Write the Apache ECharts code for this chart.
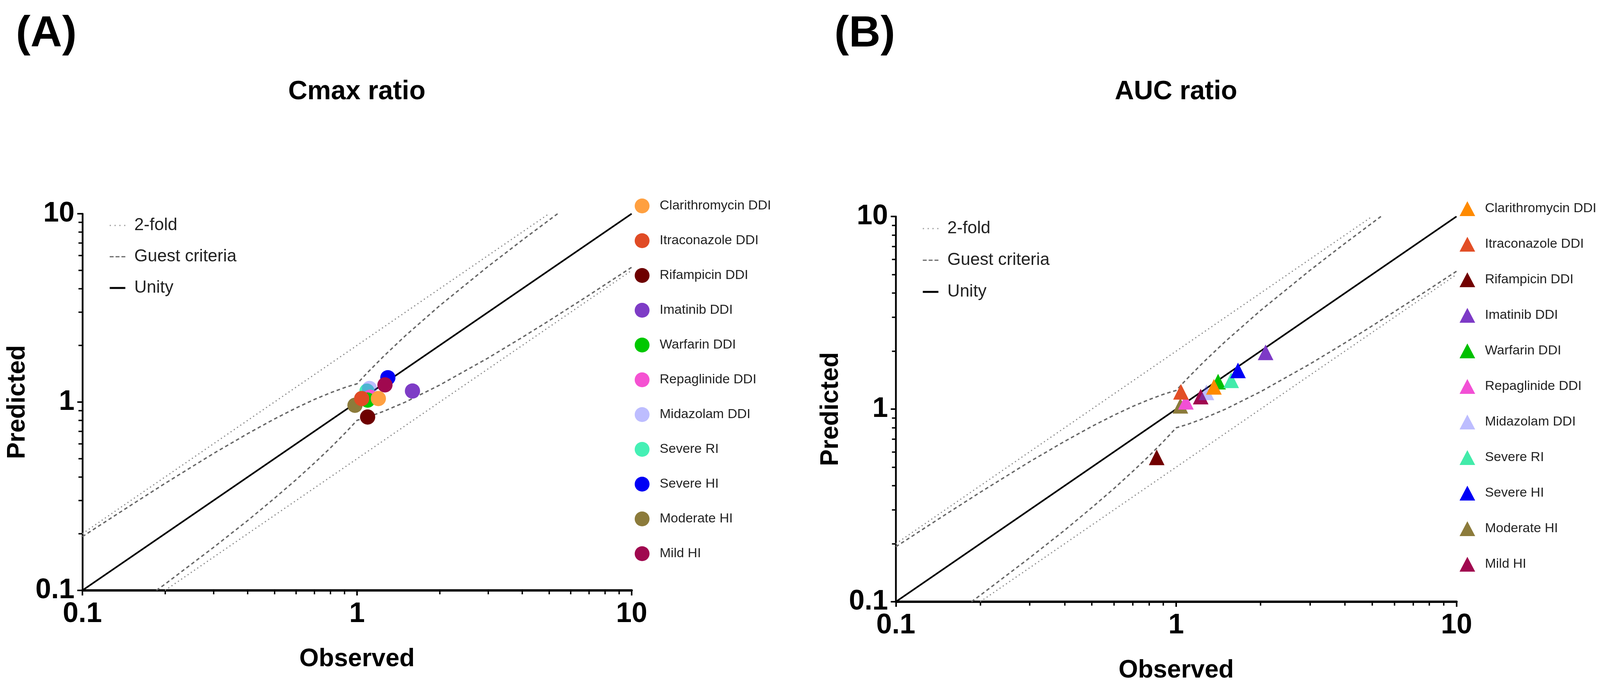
<!DOCTYPE html>
<html>
<head>
<meta charset="utf-8">
<script src="https://cdn.jsdelivr.net/npm/echarts@6.0.0/dist/echarts.min.js"></script>
<style>
html,body{margin:0;padding:0;background:#ffffff;overflow:hidden;}
#chart{width:100vw;height:100vh;}
</style>
</head>
<body>
<div id="chart"></div>
<script>
// ---------------- data ----------------
const drugNames = ['Clarithromycin DDI', 'Itraconazole DDI', 'Rifampicin DDI', 'Imatinib DDI', 'Warfarin DDI',
  'Repaglinide DDI', 'Midazolam DDI', 'Severe RI', 'Severe HI', 'Moderate HI', 'Mild HI'];

const cmaxObserved  = [1.196, 1.040, 1.093, 1.592, 1.093, 1.116, 1.110, 1.087, 1.295, 0.983, 1.264];
const cmaxPredicted = [1.044, 1.044, 0.833, 1.145, 1.024, 1.060, 1.180, 1.143, 1.347, 0.961, 1.234];

const aucObserved  = [1.363, 1.040, 0.852, 2.084, 1.411, 1.083, 1.282, 1.571, 1.661, 1.035, 1.223];
const aucPredicted = [1.305, 1.230, 0.562, 1.971, 1.388, 1.091, 1.221, 1.411, 1.588, 1.041, 1.161];

const unityX = [0.1, 10];
const unityY = [0.1, 10];
const twoFoldUpperX = [0.1, 5];
const twoFoldUpperY = [0.2, 10];
const twoFoldLowerX = [0.2, 10];
const twoFoldLowerY = [0.1, 5];
const guestUpperX = [0.1, 0.15, 0.2, 0.3, 0.4, 0.5, 0.6, 0.7, 0.8, 0.9, 0.95, 1.0, 1.05, 1.1, 1.25, 1.5, 2, 3, 4, 5.375];
const guestUpperY = [0.193, 0.283, 0.37, 0.533, 0.68, 0.813, 0.93, 1.033, 1.12, 1.193, 1.223, 1.25, 1.35, 1.45, 1.75, 2.25, 3.25, 5.25, 7.25, 10];
const guestLowerX = [0.186, 0.2, 0.3, 0.4, 0.5, 0.6, 0.7, 0.8, 0.9, 0.95, 1.0, 1.05, 1.1, 1.25, 1.5, 2, 3, 4, 5, 7, 10];
const guestLowerY = [0.1, 0.108, 0.169, 0.235, 0.308, 0.387, 0.475, 0.571, 0.679, 0.738, 0.8, 0.817, 0.834, 0.893, 1.0, 1.231, 1.714, 2.207, 2.703, 3.698, 5.195];

const majorTickValues = [0.1, 1, 10];
const majorTickLabels = ['0.1', '1', '10'];
const minorTickValues = [0.2, 0.3, 0.4, 0.5, 0.6, 0.7, 0.8, 0.9, 2, 3, 4, 5, 6, 7, 8, 9];

const panelTitles = ['Cmax ratio', 'AUC ratio'];
const panelLetters = ['(A)', '(B)'];
const xAxisTitle = 'Observed';
const yAxisTitle = 'Predicted';
const refNames = ['2-fold', 'Guest criteria', 'Unity'];

// ---------------- styles ----------------
const cmaxColors = ['#FFA040', '#E04B25', '#6E0000', '#7E3CC6', '#00C800', '#F552D2', 'rgba(90,90,255,0.4)', '#45F0B5', '#0000F5', '#8C7B3B', '#A0084F'];
const aucColors  = ['#FF8A00', '#E24E26', '#720000', '#7D3AC6', '#00C000', '#F250D5', 'rgba(90,90,255,0.4)', '#42EBAA', '#0000F5', '#8C7B3B', '#A0084F'];
const cmaxDrawOrder = [9, 7, 6, 5, 4, 8, 10, 1, 0, 2, 3];
const aucDrawOrder  = [9, 5, 1, 10, 6, 4, 0, 7, 8, 3, 2];

const FONT = '"Liberation Sans", Arial, sans-serif';

// the layout is designed for 4215 x 1771 and follows the real viewport size
const W = document.documentElement.clientWidth || 4215;
const H = document.documentElement.clientHeight || 1771;
const sx = W / 4215, sy = H / 1771;
const X = v => v * sx, Y = v => v * sy;

const panels = [
  { grid: { left: 217, top: 547, width: 1447, height: 964 },
    titleX: 940, letterX: 122,
    drugLegend: { left: 1672, top: 508, gap: 51 },
    refLegend: { left: 289, top: 555, gap: 36 },
    obs: cmaxObserved, pred: cmaxPredicted, colors: cmaxColors, order: cmaxDrawOrder,
    symbol: 'circle', symbolSize: 39 },
  { grid: { left: 2360, top: 554, width: 1477, height: 986 },
    titleX: 3098, letterX: 2278,
    drugLegend: { left: 3845, top: 515, gap: 53 },
    refLegend: { left: 2431, top: 563, gap: 37 },
    obs: aucObserved, pred: aucPredicted, colors: aucColors, order: aucDrawOrder,
    symbol: 'triangle', symbolSize: [40, 40] }
];

function pairs(xs, ys) { return xs.map((x, i) => [x, ys[i]]); }
function tickLabel(v) {
  for (let i = 0; i < majorTickValues.length; i++) {
    if (Math.abs(Math.log10(v) - Math.log10(majorTickValues[i])) < 1e-6) return majorTickLabels[i];
  }
  return '';
}

const labelStyle = { fontSize: 72, fontWeight: 'bold', color: '#000', fontFamily: FONT };
const nameStyle = { fontSize: 64, fontWeight: 'bold', color: '#000', fontFamily: FONT };

const grids = [], xAxes = [], yAxes = [], series = [], legends = [], titles = [];

panels.forEach((p, pi) => {
  grids.push({ containLabel: false, outerBoundsMode: 'none',
    left: X(p.grid.left), top: Y(p.grid.top), width: X(p.grid.width), height: Y(p.grid.height) });
  const base = { type: 'log', logBase: 10, gridIndex: pi, min: 0.1, max: 10, splitLine: { show: false }, minorTick: { show: false }, minorSplitLine: { show: false } };
  xAxes.push(Object.assign({}, base, {
    position: 'bottom',
    axisLine: { show: true, onZero: false, lineStyle: { color: '#000', width: 6 } },
    axisTick: { show: true, inside: false, length: 13, customValues: majorTickValues, lineStyle: { color: '#000', width: 4 } },
    axisLabel: Object.assign({ show: true, margin: 25, customValues: majorTickValues, formatter: tickLabel }, labelStyle),
    name: xAxisTitle, nameLocation: 'middle', nameGap: 144, nameMoveOverlap: false, nameTextStyle: nameStyle
  }));
  xAxes.push(Object.assign({}, base, {
    position: 'bottom',
    axisLine: { show: false },
    axisTick: { show: true, inside: false, length: 10, customValues: minorTickValues, lineStyle: { color: '#000', width: 3.5 } },
    axisLabel: { show: false }
  }));
  yAxes.push(Object.assign({}, base, {
    position: 'left',
    axisLine: { show: true, onZero: false, lineStyle: { color: '#000', width: 4.5 } },
    axisTick: { show: true, inside: false, length: 13, customValues: majorTickValues, lineStyle: { color: '#000', width: 4 } },
    axisLabel: Object.assign({ show: true, margin: 20, customValues: majorTickValues, formatter: tickLabel }, labelStyle),
    name: yAxisTitle, nameLocation: 'middle', nameGap: 134, nameMoveOverlap: false, nameTextStyle: nameStyle
  }));
  yAxes.push(Object.assign({}, base, {
    position: 'left',
    axisLine: { show: false },
    axisTick: { show: true, inside: false, length: 10, customValues: minorTickValues, lineStyle: { color: '#000', width: 3.5 } },
    axisLabel: { show: false }
  }));

  const xi = pi * 2, yi = pi * 2;
  const lineBase = { type: 'line', xAxisIndex: xi, yAxisIndex: yi, symbol: 'none', showSymbol: false, silent: true, animation: false, clip: true, z: 2 };
  const dotted = { color: '#8a8a8a', width: 3, type: [3, 7], cap: 'butt' };
  const dashed = { color: '#666666', width: 3.5, type: [9, 7], cap: 'butt' };
  const solid = { color: '#000000', width: 4, type: 'solid' };
  series.push(Object.assign({}, lineBase, { name: refNames[0], data: pairs(twoFoldUpperX, twoFoldUpperY), lineStyle: dotted }));
  series.push(Object.assign({}, lineBase, { name: refNames[0], data: pairs(twoFoldLowerX, twoFoldLowerY), lineStyle: dotted }));
  series.push(Object.assign({}, lineBase, { name: refNames[1], data: pairs(guestUpperX, guestUpperY), lineStyle: dashed }));
  series.push(Object.assign({}, lineBase, { name: refNames[1], data: pairs(guestLowerX, guestLowerY), lineStyle: dashed }));
  series.push(Object.assign({}, lineBase, { name: refNames[2], data: pairs(unityX, unityY), lineStyle: solid }));

  p.order.forEach((di) => {
    series.push({
      type: 'scatter', name: drugNames[di], xAxisIndex: xi, yAxisIndex: yi,
      data: [[p.obs[di], p.pred[di]]],
      symbol: p.symbol, symbolSize: p.symbolSize,
      itemStyle: { color: p.colors[di], borderWidth: 0, opacity: 1 },
      z: 3, silent: true, animation: false
    });
  });

  legends.push({
    orient: 'vertical', left: X(p.drugLegend.left), top: Y(p.drugLegend.top), padding: 0,
    itemWidth: 40, itemHeight: 38, itemGap: p.drugLegend.gap, selectedMode: false,
    textStyle: { fontSize: 34, color: '#222', fontFamily: FONT, lineHeight: 38, padding: [0, 0, 0, 20] },
    data: drugNames.map((n, i) => ({ name: n, icon: p.symbol, itemStyle: { color: p.colors[i], borderWidth: 0 } }))
  });
  legends.push({
    orient: 'vertical', left: X(p.refLegend.left), top: Y(p.refLegend.top), padding: 0,
    itemWidth: 40, itemHeight: 14, itemGap: p.refLegend.gap, selectedMode: false,
    textStyle: { fontSize: 44, color: '#222', fontFamily: FONT, lineHeight: 44, padding: [0, 0, 0, 18] },
    data: [
      { name: refNames[0], icon: 'path://M0,0h3v3h-3z M12,0h3v3h-3z M24,0h3v3h-3z M36,0h3v3h-3z', itemStyle: { color: '#9a9a9a', borderWidth: 0 } },
      { name: refNames[1], icon: 'path://M0,0h10v3h-10z M15,0h10v3h-10z M30,0h10v3h-10z', itemStyle: { color: '#666666', borderWidth: 0 } },
      { name: refNames[2], icon: 'path://M0,0h40v5h-40z', itemStyle: { color: '#000000', borderWidth: 0 } }
    ]
  });

  titles.push({ text: panelLetters[pi], left: X(p.letterX), top: Y(88), textAlign: 'center', textVerticalAlign: 'middle', padding: 0,
    textStyle: { fontSize: 112, fontWeight: 'bold', color: '#000', fontFamily: FONT } });
  titles.push({ text: panelTitles[pi], left: X(p.titleX), top: Y(235), textAlign: 'center', textVerticalAlign: 'middle', padding: 0,
    textStyle: { fontSize: 68, fontWeight: 'bold', color: '#000', fontFamily: FONT } });
});

const el = document.getElementById('chart');
el.style.width = W + 'px';
el.style.height = H + 'px';
const chart = echarts.init(el, null, { renderer: 'canvas', width: W, height: H });
chart.setOption({
  backgroundColor: '#ffffff',
  animation: false,
  title: titles,
  legend: legends,
  grid: grids,
  xAxis: xAxes,
  yAxis: yAxes,
  series: series
});
</script>
</body>
</html>
